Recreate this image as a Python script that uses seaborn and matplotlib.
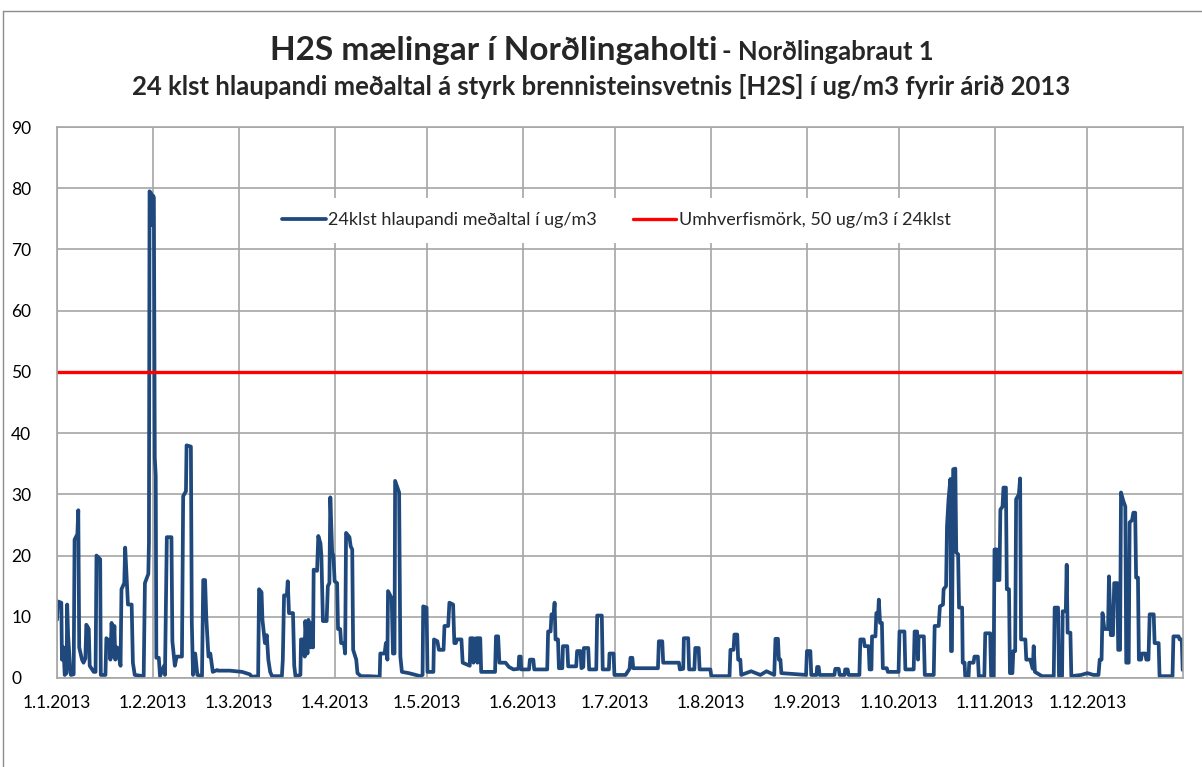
import pandas as pd
import matplotlib
matplotlib.use("Agg")
import matplotlib.pyplot as plt
from matplotlib.lines import Line2D
import seaborn as sns

# (day of year, 24h running mean in ug/m3)
q1 = [(0.0, 9.5), (0.3, 12.5), (1.4, 12.3), (1.6, 3), (2.1, 5), (2.5, 0.5), (3.1, 0.8), (3.3, 12),
      (3.6, 7), (4.2, 2), (4.5, 0.5), (5.4, 0.6), (5.7, 22.6), (6.6, 23.5), (6.9, 27.4), (7.2, 5),
      (8.1, 3), (8.6, 2.5), (9.2, 3.2), (9.5, 8.7), (10.3, 8), (10.6, 2), (11.9, 1), (12.5, 1),
      (12.8, 20), (14.0, 19.4), (14.2, 0.5), (15.7, 0.5), (16.0, 6.5), (17.0, 6), (17.3, 3), (17.7, 9),
      (18.2, 3.5), (18.6, 8.5), (18.9, 3), (19.5, 5), (20.6, 2), (20.9, 14.5), (21.8, 15.5), (22.1, 21.3),
      (22.5, 17), (23.0, 12), (24.2, 12), (24.6, 2.5), (25.2, 0.5), (28.1, 0.3), (28.5, 15.5), (29.6, 17),
      (29.8, 22), (30.0, 79.5), (30.5, 79.2), (30.8, 74), (31.1, 78.8), (31.4, 78.5),
      (31.7, 36), (32.0, 33), (32.2, 3.3), (33.0, 3.3),
      (33.4, 0.3), (34.7, 2), (35.0, 0.5), (35.6, 23), (37.1, 23), (37.4, 6), (38.2, 2), (38.8, 3.5),
      (40.5, 3.5), (40.9, 29.7), (41.8, 30.5), (42.0, 38), (43.4, 37.8), (43.7, 9), (44.1, 0.5), (44.8, 4),
      (45.5, 0.5), (47.0, 0.3), (47.4, 16), (48.0, 16), (48.4, 9.8), (49.1, 3.5), (49.7, 4), (50.5, 1),
      (51.9, 1.3), (52.2, 1.2), (56.0, 1.2), (60.0, 1.0), (62.5, 0.6), (63.2, 0.2), (65.2, 0.3), (65.5, 14.5),
      (66.3, 14), (66.6, 9.5), (67.4, 5.7), (68.0, 7), (68.5, 3), (69.1, 1), (69.7, 0.3), (72.9, 0.3),
      (73.2, 3), (73.6, 13.5), (74.5, 13.5), (74.8, 15.8), (75.2, 10.6), (76.5, 10.6), (76.9, 2), (77.3, 0.3),
      (78.9, 0.5), (79.1, 6.3), (80.0, 6.3), (80.3, 3.5), (80.5, 9.3), (81.2, 4), (81.5, 9.5), (82.2, 5),
      (82.7, 9), (83.0, 5), (83.2, 17.7), (84.3, 17.5), (84.7, 23.2), (85.4, 22), (85.7, 20), (86.2, 9.3),
      (87.4, 9.3), (87.8, 15), (88.3, 15.5), (88.6, 29.5), (89.2, 20.5), (89.6, 20), (90.0, 15.8)]

q2 = [(90.8, 15.5), (91.1, 8), (91.8, 8), (92.1, 5.7), (93.0, 5.7), (93.4, 4), (93.7, 23.7), (94.8, 23),
      (95.2, 21.5), (95.7, 21), (96.0, 4.6), (97.0, 3), (97.4, 0.8), (98.5, 0.3), (101.0, 0.3), (104.6, 0.2),
      (104.8, 4), (106.2, 4), (106.6, 5.7), (107.1, 3), (107.3, 14.2), (108.5, 13), (108.9, 4), (109.4, 4),
      (109.6, 32.2), (110.4, 31), (110.9, 30.3), (111.3, 3.5), (111.8, 1), (114.0, 0.8), (117.8, 0.3),
      (118.5, 0.5), (118.7, 11.7), (119.8, 11.5), (120.1, 1), (122.0, 1), (122.2, 6.3), (123.3, 6),
      (123.8, 4.6), (125.3, 4.6), (125.6, 8.5), (126.8, 8.5), (127.2, 12.3), (128.4, 12), (128.8, 5.7),
      (129.3, 5.7), (129.6, 6.3), (131.1, 6.3), (131.5, 2.5), (133.8, 2), (134.0, 6.5), (134.8, 6.5),
      (135.0, 2.5), (135.3, 6.4), (136.0, 6.5), (136.3, 2.5), (136.6, 6.5), (137.2, 6.5), (137.5, 1),
      (142.0, 1), (142.3, 6.8), (143.0, 6.8), (143.4, 2.5), (145.4, 2.5), (146.5, 1.8), (148.0, 1.4),
      (149.6, 1.5), (149.8, 3.5), (150.3, 3.5), (150.5, 1.4), (153.0, 1.4), (153.3, 3), (154.4, 3),
      (154.7, 1.4), (158.9, 1.4), (159.2, 7.6), (160.0, 7.6), (160.3, 10.4), (161.0, 10.4), (161.3, 12.3),
      (161.6, 6.3), (162.4, 6.3), (162.7, 1.6), (163.8, 1.6), (164.0, 5.2), (165.4, 5.2), (165.7, 1.9),
      (168.3, 1.9), (168.6, 4.4), (169.7, 4.4), (170.0, 1.6), (170.6, 1.8), (170.8, 4.9), (172.2, 4.9),
      (172.5, 1.4), (174.8, 1.4), (175.1, 10.2), (176.6, 10.2), (176.9, 1.4), (178.9, 1.4), (179.1, 4),
      (180.4, 4), (180.7, 0.5)]

q3 = [(184.3, 0.5), (185.6, 1.5), (185.9, 3.3), (186.5, 3.3), (186.8, 1.6), (194.8, 1.6), (195.1, 6),
      (196.2, 6), (196.5, 2.5), (201.6, 2.5), (201.9, 1.4), (203.0, 1.5), (203.2, 6.5), (204.6, 6.5),
      (204.9, 1.4), (206.6, 1.4), (206.9, 4.9), (208.0, 4.9), (208.3, 1.4), (211.8, 1.4), (212.1, 0.3),
      (218.0, 0.3), (218.3, 4.6), (219.3, 4.6), (219.6, 7.1), (220.5, 7.1), (220.8, 3), (221.5, 3),
      (221.8, 0.5), (225.0, 1.1), (228.0, 0.5), (230.0, 1.1), (232.5, 0.5), (232.9, 6.4), (233.7, 6.4),
      (234.0, 3), (234.5, 3), (234.8, 0.8), (242.8, 0.5), (243.1, 4.4), (244.2, 4.4), (244.5, 0.5),
      (246.2, 0.5), (246.4, 1.8), (246.9, 1.8), (247.2, 0.5), (252.0, 0.5), (252.3, 1.5), (253.4, 1.5),
      (253.7, 0.5), (255.3, 0.5), (255.5, 1.4), (256.3, 1.4), (256.6, 0.5), (260.1, 0.5), (260.4, 6.3),
      (261.5, 6.3), (261.8, 5.2), (263.1, 5.2), (263.4, 1.4), (264.0, 1.4), (264.2, 6.8), (265.3, 6.8),
      (265.6, 10.6), (266.2, 10.6), (266.4, 12.8), (266.8, 9), (267.4, 9), (267.7, 1.6), (269.0, 1.6),
      (269.3, 1), (272.8, 1)]

q4 = [(273.1, 7.6), (274.7, 7.6), (275.0, 1.4), (277.7, 1.4), (278.0, 7.6), (278.8, 7.6), (279.1, 3),
      (279.3, 6.8), (281.0, 6.8), (281.3, 0.5), (284.2, 0.5), (284.5, 8.5), (285.8, 8.5), (286.2, 11.7),
      (287.2, 12), (287.4, 14.5), (288.2, 15), (288.5, 24.8), (289.0, 29.2), (289.6, 32.5), (289.8, 4.4),
      (290.1, 4.4), (290.5, 34.1), (291.2, 34.2), (291.5, 20.5), (292.1, 20.2), (292.4, 11.5), (293.4, 11.5),
      (293.6, 2.5), (294.2, 2.5), (294.4, 0.3), (295.5, 0.3), (295.7, 2.5), (297.1, 2.5), (297.4, 3.5),
      (298.5, 3.5), (298.8, 0.3), (300.6, 0.3), (300.9, 7.3), (302.5, 7.3), (302.8, 0.3), (303.6, 0.3),
      (303.9, 21), (304.6, 21), (304.8, 16), (305.5, 16), (305.8, 27.5), (306.5, 28), (306.8, 31.1),
      (307.6, 31.1), (307.9, 14.5), (308.6, 14.5), (308.9, 0.8), (309.7, 0.8), (310.0, 4.4), (310.6, 4.4),
      (310.9, 29.2), (311.8, 30), (312.2, 32.6), (312.5, 6.3), (313.9, 6.3), (314.2, 3), (315.5, 3),
      (316.3, 1.5), (316.6, 5.2), (317.0, 1), (319.3, 0.3), (323.1, 0.3), (323.4, 11.5), (324.5, 11.5),
      (324.8, 0.3), (325.8, 0.3), (326.0, 10.9), (327.0, 10.9), (327.3, 18.5), (327.6, 7.4), (328.5, 7.4),
      (328.8, 0.3), (332.0, 0.5), (334.0, 0.8), (336.0, 0.5), (337.6, 0.5), (338.0, 3), (338.6, 3),
      (338.9, 10.6), (339.5, 8), (340.7, 8), (341.0, 16.6), (341.6, 7), (342.3, 7), (342.7, 15.5),
      (343.7, 15.5), (344.0, 4.6), (344.6, 4.6), (344.9, 30.3), (345.6, 29), (346.3, 28), (346.6, 2.5),
      (347.4, 2.5), (347.7, 25.4), (348.5, 25.8), (348.9, 27), (349.5, 27), (349.8, 16.4), (350.4, 16.4),
      (350.7, 3), (351.4, 3), (351.7, 4), (352.8, 4), (353.1, 3), (353.8, 3), (354.2, 10.4), (355.5, 10.4),
      (355.8, 5.7), (357.1, 5.7), (357.4, 0.3), (361.6, 0.3), (361.9, 6.8), (363.6, 6.8), (363.9, 6.3),
      (364.6, 6.3), (364.9, 1.3)]

limit_days = [0, 365]
limit_values = [50, 50]

month_starts = pd.date_range("2013-01-01", "2013-12-01", freq="MS")
month_labels = [f"{d.day}.{d.month}.{d.year}" for d in month_starts]

START = pd.Timestamp("2013-01-01")
BLUE = "#1F497D"
GRID = "#A6A6A6"


def to_frame(points):
    df = pd.DataFrame(points, columns=["day", "value"])
    df["time"] = START + pd.to_timedelta(df["day"], unit="D")
    return df


sns.set_theme(style="white")
plt.rcParams["font.family"] = ["Lato", "DejaVu Sans"]

series = to_frame(q1 + q2 + q3 + q4)
limit = to_frame(list(zip(limit_days, limit_values)))

fig = plt.figure(figsize=(12.02, 7.67), dpi=100)
ax = fig.add_axes([57 / 1202, 89 / 767, 1126 / 1202, 551 / 767])

sns.lineplot(data=series, x="time", y="value", ax=ax, color=BLUE, lw=2.7,
             estimator=None, sort=False, label="24klst hlaupandi meðaltal í ug/m3")
sns.lineplot(data=limit, x="time", y="value", ax=ax, color="#FF0000", lw=2.4,
             estimator=None, sort=False, label="Umhverfismörk, 50 ug/m3 í 24klst")

ax.set_xlim(START, pd.Timestamp("2014-01-01"))
ax.set_ylim(0, 90)
ax.set_yticks(range(0, 91, 10))
ax.set_xticks(month_starts)
ax.set_xticklabels(month_labels)
ax.set_xlabel("")
ax.set_ylabel("")
ax.grid(True, color=GRID, lw=1.2)
ax.set_axisbelow(True)
for s in ax.spines.values():
    s.set_color(GRID)
    s.set_linewidth(1.2)
ax.tick_params(axis="x", length=0, pad=12, labelsize=12.5, colors="black")
ax.tick_params(axis="y", length=0, pad=33, labelsize=12.5, colors="black")
for lab in ax.get_yticklabels():
    lab.set_horizontalalignment("left")

leg = ax.legend(loc="center", bbox_to_anchor=(0.497, 0.831), ncol=2, frameon=True,
                facecolor="white", edgecolor="none", framealpha=1, fontsize=13,
                handlelength=2.4, handletextpad=0.15, columnspacing=2.0, borderpad=0.8)

fig.text(717 / 1202, 1 - 60 / 767, "H2S mælingar í Norðlingaholti", ha="right", va="baseline",
         fontsize=24, fontweight="bold")
fig.text(722 / 1202, 1 - 60 / 767, "- Norðlingabraut 1", ha="left", va="baseline",
         fontsize=18.5, fontweight="bold")
fig.text(601 / 1202, 1 - 95 / 767,
         "24 klst hlaupandi meðaltal á styrk brennisteinsvetnis [H2S] í ug/m3 fyrir árið 2013",
         ha="center", va="baseline", fontsize=18.5, fontweight="bold")

# outer chart frame (top and left edges visible)
fig.add_artist(Line2D([3 / 1202, 1], [1 - 10.5 / 767] * 2, transform=fig.transFigure,
                      color="#8C8C8C", lw=1))
fig.add_artist(Line2D([3 / 1202] * 2, [0, 1 - 10.5 / 767], transform=fig.transFigure,
                      color="#8C8C8C", lw=1))

fig.savefig("out.png", dpi=100)
